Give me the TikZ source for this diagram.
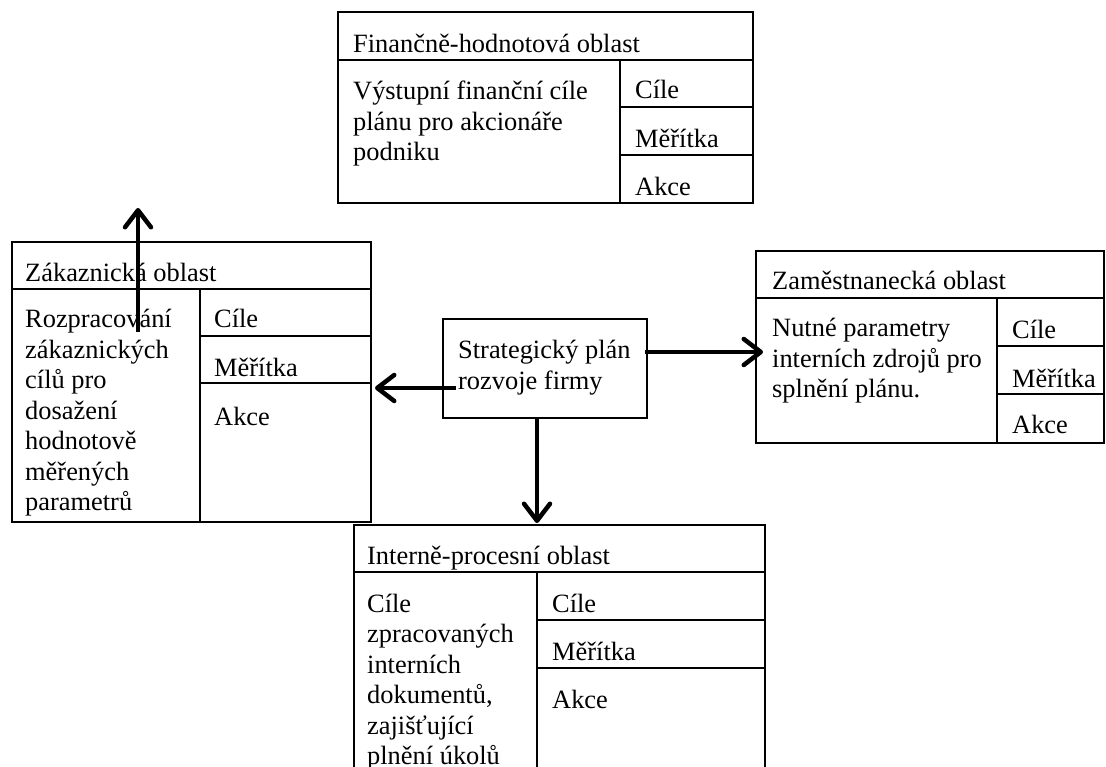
\documentclass[tikz,border=0pt]{standalone}
\usepackage{fontspec}
\setmainfont{Liberation Serif}
\usetikzlibrary{arrows.meta}
\begin{document}
\begin{tikzpicture}[x=1pt,y=-1pt,
  box/.style={draw, line width=2pt, inner sep=0pt, anchor=north west},
  rule/.style={line width=2pt},
  txt/.style={anchor=base west, inner sep=0pt, font=\fontsize{26.4}{30.5}\selectfont},
  conn/.style={line width=4.5pt, -{Straight Barb[length=17pt,width=26pt,round]}}
]
\useasboundingbox (0,0) rectangle (1106,767);
\clip (0,0) rectangle (1106,767);

% ---------- Financne-hodnotova oblast ----------
\node[box, minimum width=415pt, minimum height=191pt] (fin) at (337,11) {};
\draw[rule] (337,60) -- (752,60);
\draw[rule] (620,60) -- (620,202);
\draw[rule] (620,107) -- (752,107);
\draw[rule] (620,155) -- (752,155);
\node[txt] (finH) at (353,53) {Finančně-hodnotová oblast};
\node[txt] (finB) at (353,100) {\begin{tabular}[t]{@{}l@{}}Výstupní finanční cíle\\plánu pro akcionáře\\podniku\end{tabular}};
\node[txt] (finC) at (635,99) {Cíle};
\node[txt] (finM) at (635,148) {Měřítka};
\node[txt] (finA) at (635,196) {Akce};

% ---------- Zakaznicka oblast ----------
\node[box, minimum width=359pt, minimum height=280pt] (zak) at (11,241) {};
\draw[rule] (11,289) -- (370,289);
\draw[rule] (200,289) -- (200,521);
\draw[rule] (200,336) -- (370,336);
\draw[rule] (200,383) -- (370,383);
\node[txt] (zakH) at (25,282) {Zákaznická oblast};
\node[txt] (zakB) at (25,328) {\begin{tabular}[t]{@{}l@{}}Rozpracování\\zákaznických\\cílů pro\\dosažení\\hodnotově\\měřených\\parametrů\end{tabular}};
\node[txt] (zakC) at (214,328) {Cíle};
\node[txt] (zakM) at (214,377) {Měřítka};
\node[txt] (zakA) at (214,425) {Akce};

% ---------- Strategicky plan ----------
\node[box, minimum width=204pt, minimum height=99pt] (str) at (442,318) {};
\node[txt] (strT) at (458,359) {\begin{tabular}[t]{@{}l@{}}Strategický plán\\rozvoje firmy\end{tabular}};

% ---------- Zamestnanecka oblast ----------
\node[box, minimum width=348pt, minimum height=192pt] (zam) at (755,250) {};
\draw[rule] (755,298) -- (1103,298);
\draw[rule] (997,298) -- (997,442);
\draw[rule] (997,346) -- (1103,346);
\draw[rule] (997,394) -- (1103,394);
\node[txt] (zamH) at (772,290) {Zaměstnanecká oblast};
\node[txt] (zamB) at (772,337) {\begin{tabular}[t]{@{}l@{}}Nutné parametry\\interních zdrojů pro\\splnění plánu.\end{tabular}};
\node[txt] (zamC) at (1012,338) {Cíle};
\node[txt] (zamM) at (1012,387) {Měřítka};
\node[txt] (zamA) at (1012,433) {Akce};

% ---------- Interne-procesni oblast ----------
\node[box, minimum width=411pt, minimum height=300pt] (int) at (353,524) {};
\draw[rule] (353,572) -- (764,572);
\draw[rule] (537,572) -- (537,830);
\draw[rule] (537,620) -- (764,620);
\draw[rule] (537,668) -- (764,668);
\node[txt] (intH) at (367,564) {Interně-procesní oblast};
\node[txt] (intB) at (367,612) {\begin{tabular}[t]{@{}l@{}}Cíle\\zpracovaných\\interních\\dokumentů,\\zajišťující\\plnění úkolů\end{tabular}};
\node[txt] (intC) at (552,612) {Cíle};
\node[txt] (intM) at (552,660) {Měřítka};
\node[txt] (intA) at (552,708) {Akce};

% ---------- connectors ----------
\coordinate (upS) at (138,332);
\coordinate (upE) at (138,208);
\coordinate (lfS) at (456,388);
\coordinate (lfE) at (375,388);
\coordinate (rtS) at (645,352);
\coordinate (rtE) at (763,352);
\coordinate (dnS) at (537,417);
\coordinate (dnE) at (537,523);
\draw[conn] (upS) -- (upE);
\draw[conn] (lfS) -- (lfE);
\draw[conn] (rtS) -- (rtE);
\draw[conn] (dnS) -- (dnE);
\end{tikzpicture}
\end{document}
